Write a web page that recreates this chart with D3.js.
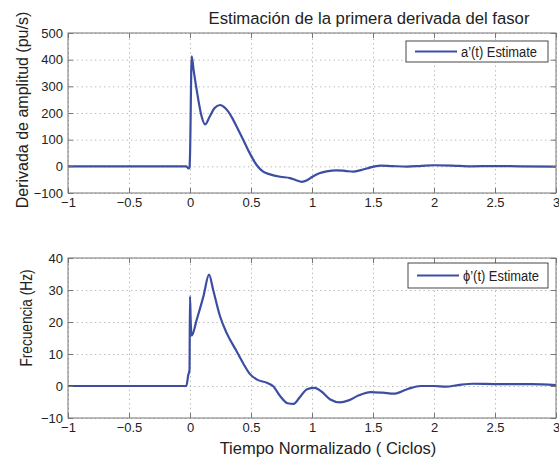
<!DOCTYPE html>
<html>
<head>
<meta charset="utf-8">
<script src="https://cdn.jsdelivr.net/npm/d3@7"></script>
<style>
  html, body { margin: 0; padding: 0; background: #fff; }
  svg { display: block; font-family: "Liberation Sans", Arial, Helvetica, sans-serif; }
</style>
</head>
<body>
<svg id="chart" width="559" height="459"></svg>
<script>
// Time axis (normalized cycles) and tick values
const xTicks = [-1, -0.5, 0, 0.5, 1, 1.5, 2, 2.5, 3];
const ampTicks = [-100, 0, 100, 200, 300, 400, 500];
const freqTicks = [-10, 0, 10, 20, 30, 40];

// Amplitude derivative estimate a'(t), pu/s
const ampT = [-1, -0.03, -0.012, -0.004, 0.0, 0.014, 0.03, 0.055, 0.096, 0.123, 0.16, 0.2, 0.246, 0.28, 0.314, 0.35, 0.38, 0.437, 0.49, 0.546, 0.6, 0.656, 0.74, 0.82, 0.87, 0.915, 0.96, 1.0, 1.06, 1.12, 1.2, 1.27, 1.34, 1.4, 1.45, 1.56, 1.66, 1.78, 1.9, 2.0, 2.15, 2.3, 2.5, 2.7, 3.0];
const ampV = [0, 0, -8, -5, 40, 412, 360, 286, 186, 157, 185, 218, 230, 222, 205, 178, 151, 99, 49, 5, -20, -30, -39, -44, -52, -58, -52, -40, -26, -19, -15, -17, -20, -14, -8, 3, 1, -1, 2, 4, 3, 0, 1, 0, -1];

// Frequency deviation estimate phi'(t), Hz
const freqT = [-1, -0.03, -0.014, -0.004, 0.0, 0.006, 0.014, 0.055, 0.11, 0.156, 0.19, 0.246, 0.3, 0.38, 0.44, 0.49, 0.55, 0.63, 0.68, 0.74, 0.8, 0.85, 0.9, 0.96, 1.02, 1.08, 1.15, 1.23, 1.3, 1.38, 1.48, 1.58, 1.67, 1.78, 1.89, 2.0, 2.1, 2.2, 2.32, 2.5, 2.8, 3.0];
const freqV = [0, 0, 3.5, 5, 28, 20, 15.7, 20.7, 28, 34.8, 30, 21.8, 16.6, 11, 6.8, 3.8, 2, 1, 0, -3.2, -5.4, -5.6, -3.5, -1, -0.6, -1.8, -4.2, -5.1, -4.5, -3, -1.9, -2.1, -2.4, -1, 0, 0, -0.2, 0.3, 0.7, 0.6, 0.6, 0.3];

const lineColor = "#3b4ea2";
const svg = d3.select("#chart");

const x = d3.scaleLinear().domain([-1, 3]).range([68, 556]);

function panel(opts) {
  const { y, yTicks, ts, vs, legendText, legendBox } = opts;
  const [y0, y1] = y.range(); // bottom, top
  const g = svg.append("g");

  // dotted grid
  g.append("g")
    .attr("transform", `translate(0,${y0})`)
    .call(d3.axisBottom(x).tickValues(xTicks).tickSize(-(y0 - y1)).tickFormat(""))
    .call(s => s.select(".domain").remove())
    .selectAll("line").attr("stroke", "#b5b5b5").attr("stroke-dasharray", "1.3,3.2");
  g.append("g")
    .attr("transform", `translate(${x.range()[0]},0)`)
    .call(d3.axisLeft(y).tickValues(yTicks).tickSize(-(x.range()[1] - x.range()[0])).tickFormat(""))
    .call(s => s.select(".domain").remove())
    .selectAll("line").attr("stroke", "#b5b5b5").attr("stroke-dasharray", "1.3,3.2");

  // series line
  const line = d3.line()
    .x((d, i) => x(ts[i]))
    .y(d => y(d))
    .curve(d3.curveMonotoneX);
  g.append("path")
    .datum(vs)
    .attr("fill", "none")
    .attr("stroke", lineColor)
    .attr("stroke-width", 2.2)
    .attr("stroke-linejoin", "round")
    .attr("d", line);

  // axes with inward ticks
  const axStyle = s => {
    s.select(".domain").remove();
    s.selectAll("line").attr("stroke", "#777");
    s.selectAll("text").attr("fill", "#222").attr("font-size", 13);
  };
  g.append("g").attr("transform", `translate(0,${y0})`)
    .call(d3.axisBottom(x).tickValues(xTicks).tickSizeInner(-5).tickSizeOuter(0).tickPadding(5).tickFormat(d3.format("")))
    .call(axStyle);
  g.append("g").attr("transform", `translate(0,${y1})`)
    .call(d3.axisTop(x).tickValues(xTicks).tickSizeInner(-5).tickSizeOuter(0).tickFormat(""))
    .call(axStyle);
  g.append("g").attr("transform", `translate(${x.range()[0]},0)`)
    .call(d3.axisLeft(y).tickValues(yTicks).tickSizeInner(-5).tickSizeOuter(0).tickPadding(5).tickFormat(d3.format("")))
    .call(axStyle);
  g.append("g").attr("transform", `translate(${x.range()[1]},0)`)
    .call(d3.axisRight(y).tickValues(yTicks).tickSizeInner(-5).tickSizeOuter(0).tickFormat(""))
    .call(axStyle);

  // frame
  g.append("rect")
    .attr("x", x.range()[0]).attr("y", y1)
    .attr("width", x.range()[1] - x.range()[0]).attr("height", y0 - y1)
    .attr("fill", "none").attr("stroke", "#777").attr("stroke-width", 1);

  // legend
  const lb = legendBox;
  g.append("rect")
    .attr("x", lb.x).attr("y", lb.y).attr("width", lb.w).attr("height", lb.h)
    .attr("fill", "#fff").attr("stroke", "#333").attr("stroke-width", 0.9);
  const ly = lb.y + lb.h / 2;
  g.append("line")
    .attr("x1", lb.x + 9).attr("x2", lb.x + 51).attr("y1", ly).attr("y2", ly)
    .attr("stroke", lineColor).attr("stroke-width", 2.2);
  g.append("text")
    .attr("x", lb.x + 55).attr("y", ly + 5)
    .attr("font-size", 14).attr("fill", "#222")
    .attr("textLength", 76).attr("lengthAdjust", "spacingAndGlyphs")
    .text(legendText);
  return g;
}

const yAmp = d3.scaleLinear().domain([-100, 500]).range([193, 33]);
const yFreq = d3.scaleLinear().domain([-10, 40]).range([418, 258]);

panel({ y: yAmp, yTicks: ampTicks, ts: ampT, vs: ampV,
  legendText: "a’(t) Estimate", legendBox: { x: 406, y: 41, w: 142, h: 21 } });
panel({ y: yFreq, yTicks: freqTicks, ts: freqT, vs: freqV,
  legendText: "ϕ’(t) Estimate", legendBox: { x: 408, y: 263, w: 140, h: 25 } });

// titles and axis labels
svg.append("text")
  .attr("x", 369).attr("y", 24).attr("text-anchor", "middle")
  .attr("font-size", 16.7).attr("fill", "#222")
  .text("Estimación de la primera derivada del fasor");

svg.append("text")
  .attr("transform", "translate(28,110) rotate(-90)")
  .attr("text-anchor", "middle").attr("font-size", 16).attr("fill", "#222")
  .text("Derivada de amplitud (pu/s)");

svg.append("text")
  .attr("transform", "translate(32,318) rotate(-90)")
  .attr("text-anchor", "middle").attr("font-size", 16).attr("fill", "#222")
  .attr("textLength", 97).attr("lengthAdjust", "spacingAndGlyphs")
  .text("Frecuencia (Hz)");

svg.append("text")
  .attr("x", 328).attr("y", 454).attr("text-anchor", "middle")
  .attr("font-size", 16.5).attr("fill", "#222")
  .text("Tiempo Normalizado ( Ciclos)");
</script>
</body>
</html>
